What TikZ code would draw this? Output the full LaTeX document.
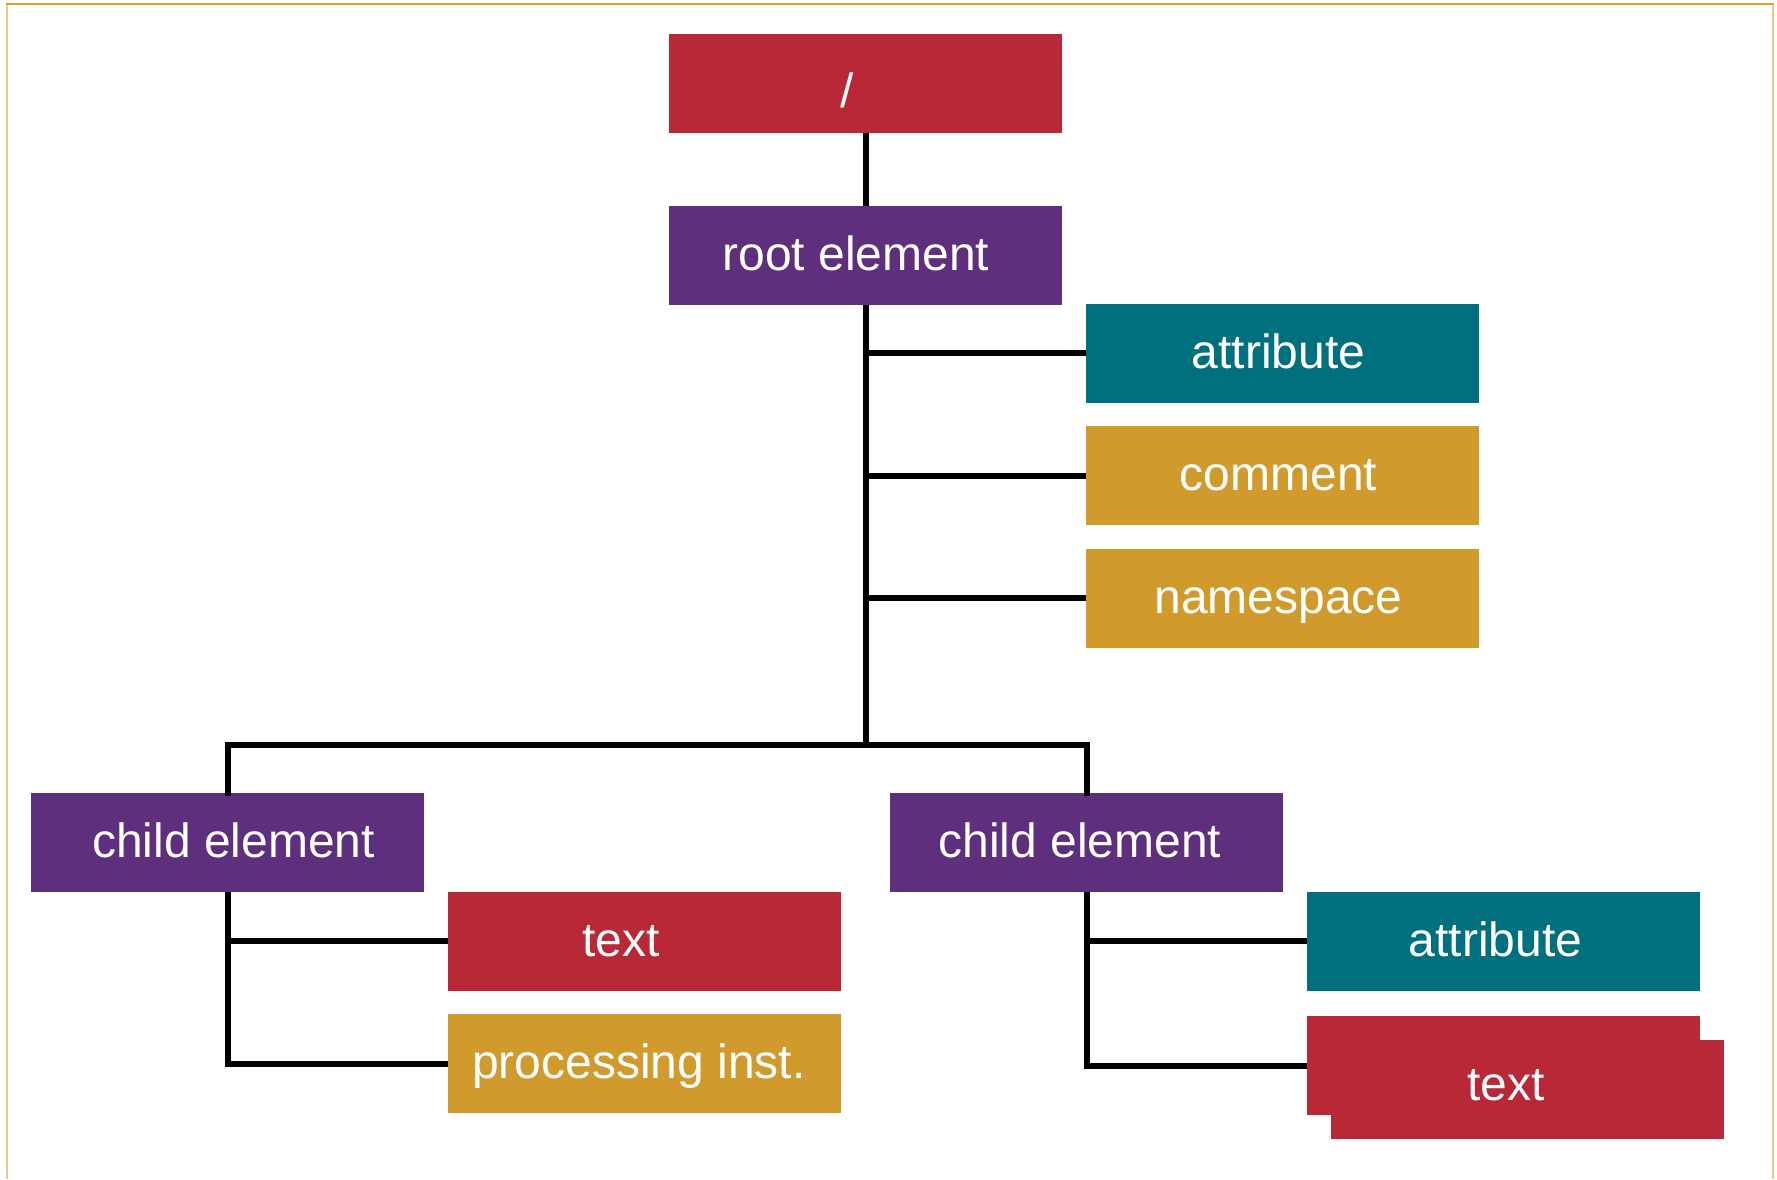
\documentclass[tikz,border=0pt]{standalone}
\usepackage{fontspec}
\setmainfont{Liberation Sans}
\usepackage{xcolor}
\usepackage{tikz}
\definecolor{xred}{HTML}{B82837}
\definecolor{xpurple}{HTML}{5E2F7D}
\definecolor{xteal}{HTML}{00707E}
\definecolor{xgold}{HTML}{D19A2D}
\definecolor{frametop}{HTML}{E0A028}
\definecolor{frameside}{HTML}{EBC98A}
\tikzset{
    box/.style={rectangle, minimum width=393pt, minimum height=99pt, inner sep=0pt,
        text height=36pt, text depth=6pt,
        text=white, font=\fontsize{48}{52}\selectfont},
    nudge/.style={execute at begin node={\hspace*{#1}\hspace*{#1}}},
    link/.style={line width=6pt, black}
}

\begin{document}
\begin{tikzpicture}[x=1pt, y=-1pt]

    % Fix the size of the picture
    \useasboundingbox (0,0) rectangle (1777,1179);

    % Draw the open frame round the tree
    \draw[frameside, line width=2pt] (7,1179) -- (7,4);
    \draw[frameside, line width=2pt] (1773,4) -- (1773,1179);
    \draw[frametop, line width=2pt] (6,4) -- (1774,4);

    % Draw the document node and the root element
    \node[box, fill=xred, nudge=-18pt] (slash) at (865.5,83.5) {\raisebox{-8.5pt}{/}};
    \node[box, fill=xpurple, nudge=-9.5pt] (root) at (865.5,255.5) {root element};

    % Draw the nodes that hang off the root element
    \node[box, fill=xteal, nudge=-4pt] (attr) at (1282.5,353) {attribute};
    \node[box, fill=xgold, nudge=-4pt] (comm) at (1282.5,475.5) {comment};
    \node[box, fill=xgold, nudge=-4pt] (ns) at (1282.5,598) {namespace};

    % Draw the two child elements
    \node[box, fill=xpurple, nudge=6pt] (childL) at (227.5,842.5) {child element};
    \node[box, fill=xpurple, nudge=-6.5pt] (childR) at (1086.5,842.5) {child element};

    % Draw the nodes under the left child
    \node[box, fill=xred, nudge=-23.5pt] (textL) at (644.5,941) {text};
    \node[box, fill=xgold, nudge=-5.5pt] (pi) at (644.5,1063.5) {processing inst.};

    % Draw the nodes under the right child (text is two sheets)
    \node[box, fill=xteal, nudge=-8pt] (attrR) at (1503.5,941) {attribute};
    \node[box, fill=xred] (textR) at (1503.5,1065.5) {};
    \node[box, fill=xred] (textRb) at (1527.5,1089.5) {};
    \node[box] (textRlbl) at (1506,1085) {text};

    % Draw the trunk and the bus to the children
    \coordinate (bus) at (865.5,745);
    \draw[link] (slash) -- (root);
    \draw[link] (root) -- (bus);
    \draw[link, line cap=rect] (childL.north) |- (bus) -| (childR.north);

    % Draw the branches of the root element
    \draw[link] (attr.west) -- (attr.west -| root);
    \draw[link] (comm.west) -- (comm.west -| root);
    \draw[link] (ns.west) -- (ns.west -| root);

    % Draw the branches of the child elements
    \draw[link] (childL) |- (pi);
    \draw[link] (textL.west) -- (textL.west -| childL);
    \draw[link] (childR) |- (textR);
    \draw[link] (attrR.west) -- (attrR.west -| childR);

\end{tikzpicture}
\end{document}
